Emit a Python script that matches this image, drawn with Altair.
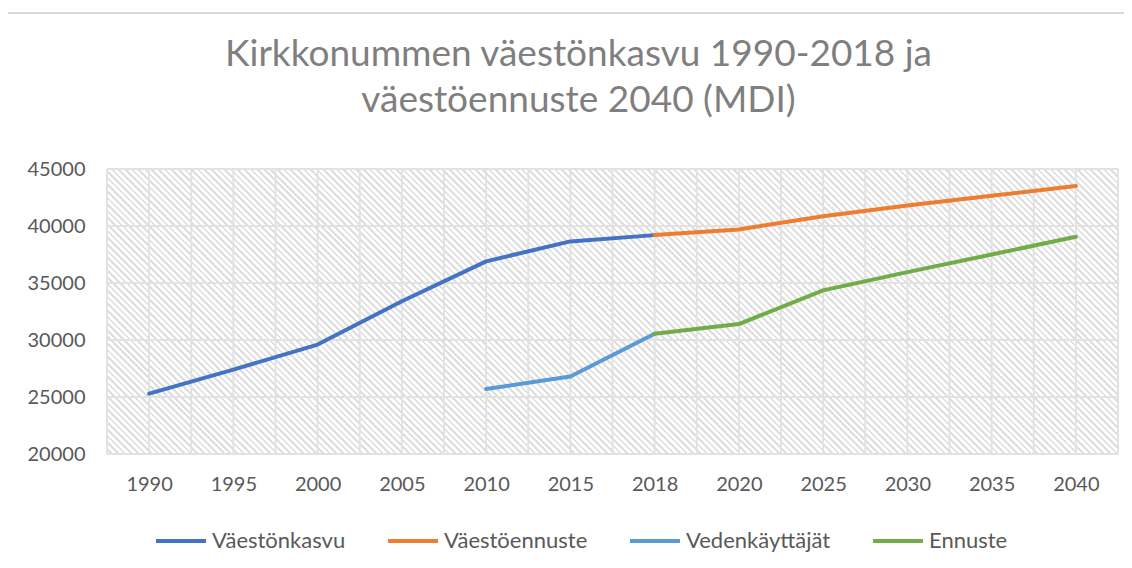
import json
import altair as alt
import pandas as pd

# ---- data ----
years = ["1990", "1995", "2000", "2005", "2010", "2015", "2018",
         "2020", "2025", "2030", "2035", "2040"]
series_names = ["Väestönkasvu", "Väestöennuste", "Vedenkäyttäjät", "Ennuste"]
series_colors = ["#4472C4", "#ED7D31", "#5B9BD5", "#70AD47"]

vaestonkasvu = [25300, 27400, 29600, 33400, 36900, 38650, 39200,
                None, None, None, None, None]
vaestoennuste = [None, None, None, None, None, None, 39200,
                 39700, 40850, 41800, 42650, 43500]
vedenkayttajat = [None, None, None, None, 25700, 26800, 30550,
                  None, None, None, None, None]
ennuste = [None, None, None, None, None, None, 30550,
           31400, 34350, 35950, 37500, 39050]
y_ticks = [20000, 25000, 30000, 35000, 40000, 45000]

title_lines = ["Kirkkonummen väestönkasvu 1990-2018 ja",
               "väestöennuste 2040 (MDI)"]

# ---- layout / style ----
FONT = "Lato"
W, H = 1011, 285
LABEL_COLOR = "#595959"
GRID_COLOR = "#e2e2e2"

rows = []
for name, vals in zip(series_names,
                      [vaestonkasvu, vaestoennuste, vedenkayttajat, ennuste]):
    for i, v in enumerate(vals):
        if v is not None:
            rows.append({"series": name, "idx": i, "value": v})
df = pd.DataFrame(rows)

n = len(years)
xgrid = pd.DataFrame({"idx": [k / 2 - 0.5 for k in range(2 * n + 1)]})
ygrid = pd.DataFrame({"value": y_ticks})

x_scale = alt.Scale(domain=[-0.5, n - 0.5], nice=False, zero=False)
y_scale = alt.Scale(domain=[y_ticks[0], y_ticks[-1]], nice=False, zero=False)

label_expr = json.dumps(years) + "[datum.value]"
x_axis = alt.Axis(values=list(range(n)), labelExpr=label_expr,
                  ticks=False, domain=False, grid=False,
                  labelFont=FONT, labelFontSize=20,
                  labelColor=LABEL_COLOR, labelPadding=20)
y_axis = alt.Axis(values=y_ticks, format="d", ticks=False, domain=False,
                  grid=False, labelFont=FONT, labelFontSize=20,
                  labelColor=LABEL_COLOR, labelPadding=22)
X = alt.X("idx:Q", scale=x_scale, title=None, axis=x_axis)
Y = alt.Y("value:Q", scale=y_scale, title=None, axis=y_axis)

# hatch pattern as a hard-stop linear gradient (45 degree stripes)
period = 6.6
N = int(round((W + H) / period))
k = (W + H) / (W * W + H * H)
stops = []
for i in range(N):
    a = i / N
    b = (i + 0.6) / N
    c = (i + 1) / N
    stops += [{"offset": a, "color": "#ffffff"},
              {"offset": b, "color": "#ffffff"},
              {"offset": b, "color": "#dedede"},
              {"offset": c, "color": "#dedede"}]
hatch_fill = {"gradient": "linear", "x1": 0, "y1": 1,
              "x2": k * W, "y2": 1 - k * H, "stops": stops}

one = alt.Data(values=[{"a": 0}])

hatch = alt.Chart(one).mark_rect(fill=hatch_fill, strokeWidth=0).encode(
    x=alt.value(0), x2=alt.value("width"),
    y=alt.value(0), y2=alt.value("height"))

vgrid = alt.Chart(xgrid).mark_rule(color=GRID_COLOR, strokeWidth=2).encode(x=X)
hgrid = alt.Chart(ygrid).mark_rule(color=GRID_COLOR, strokeWidth=2).encode(y=Y)

lines = alt.Chart(df).mark_line(strokeWidth=4, strokeCap="round",
                                strokeJoin="round").encode(
    x=X,
    y=Y,
    color=alt.Color("series:N",
                    scale=alt.Scale(domain=series_names, range=series_colors),
                    sort=series_names,
                    legend=alt.Legend(title=None, orient="none",
                                      direction="horizontal",
                                      legendX=47, legendY=345,
                                      symbolType="stroke", symbolSize=2500,
                                      symbolStrokeWidth=4,
                                      labelFont=FONT, labelFontSize=22,
                                      labelColor=LABEL_COLOR, labelOffset=4,
                                      columnPadding=34, padding=0)),
    detail="series:N",
)

border_top = alt.Chart(one).mark_rule(color="#d9d9d9", strokeWidth=2).encode(
    x=alt.value(-100), x2=alt.value(W + 20), y=alt.value(-156))
border_left = alt.Chart(one).mark_rule(color="#d9d9d9", strokeWidth=2).encode(
    x=alt.value(-100), y=alt.value(-156), y2=alt.value(H + 120))

chart = alt.layer(hatch, vgrid, hgrid, lines, border_top, border_left).properties(
    width=W, height=H,
    title=alt.TitleParams(text=title_lines, font=FONT, fontSize=37,
                          fontWeight="normal", color="#7f7f7f",
                          anchor="middle", frame="group", dx=-34,
                          lineHeight=46, baseline="bottom", offset=0, dy=145),
    autosize=alt.AutoSizeParams(type="none"),
    padding={"left": 99, "top": 161, "right": 6, "bottom": 106},
).configure_view(stroke=None)

chart.save("out.html", embed_options={"renderer": "svg", "actions": False})
